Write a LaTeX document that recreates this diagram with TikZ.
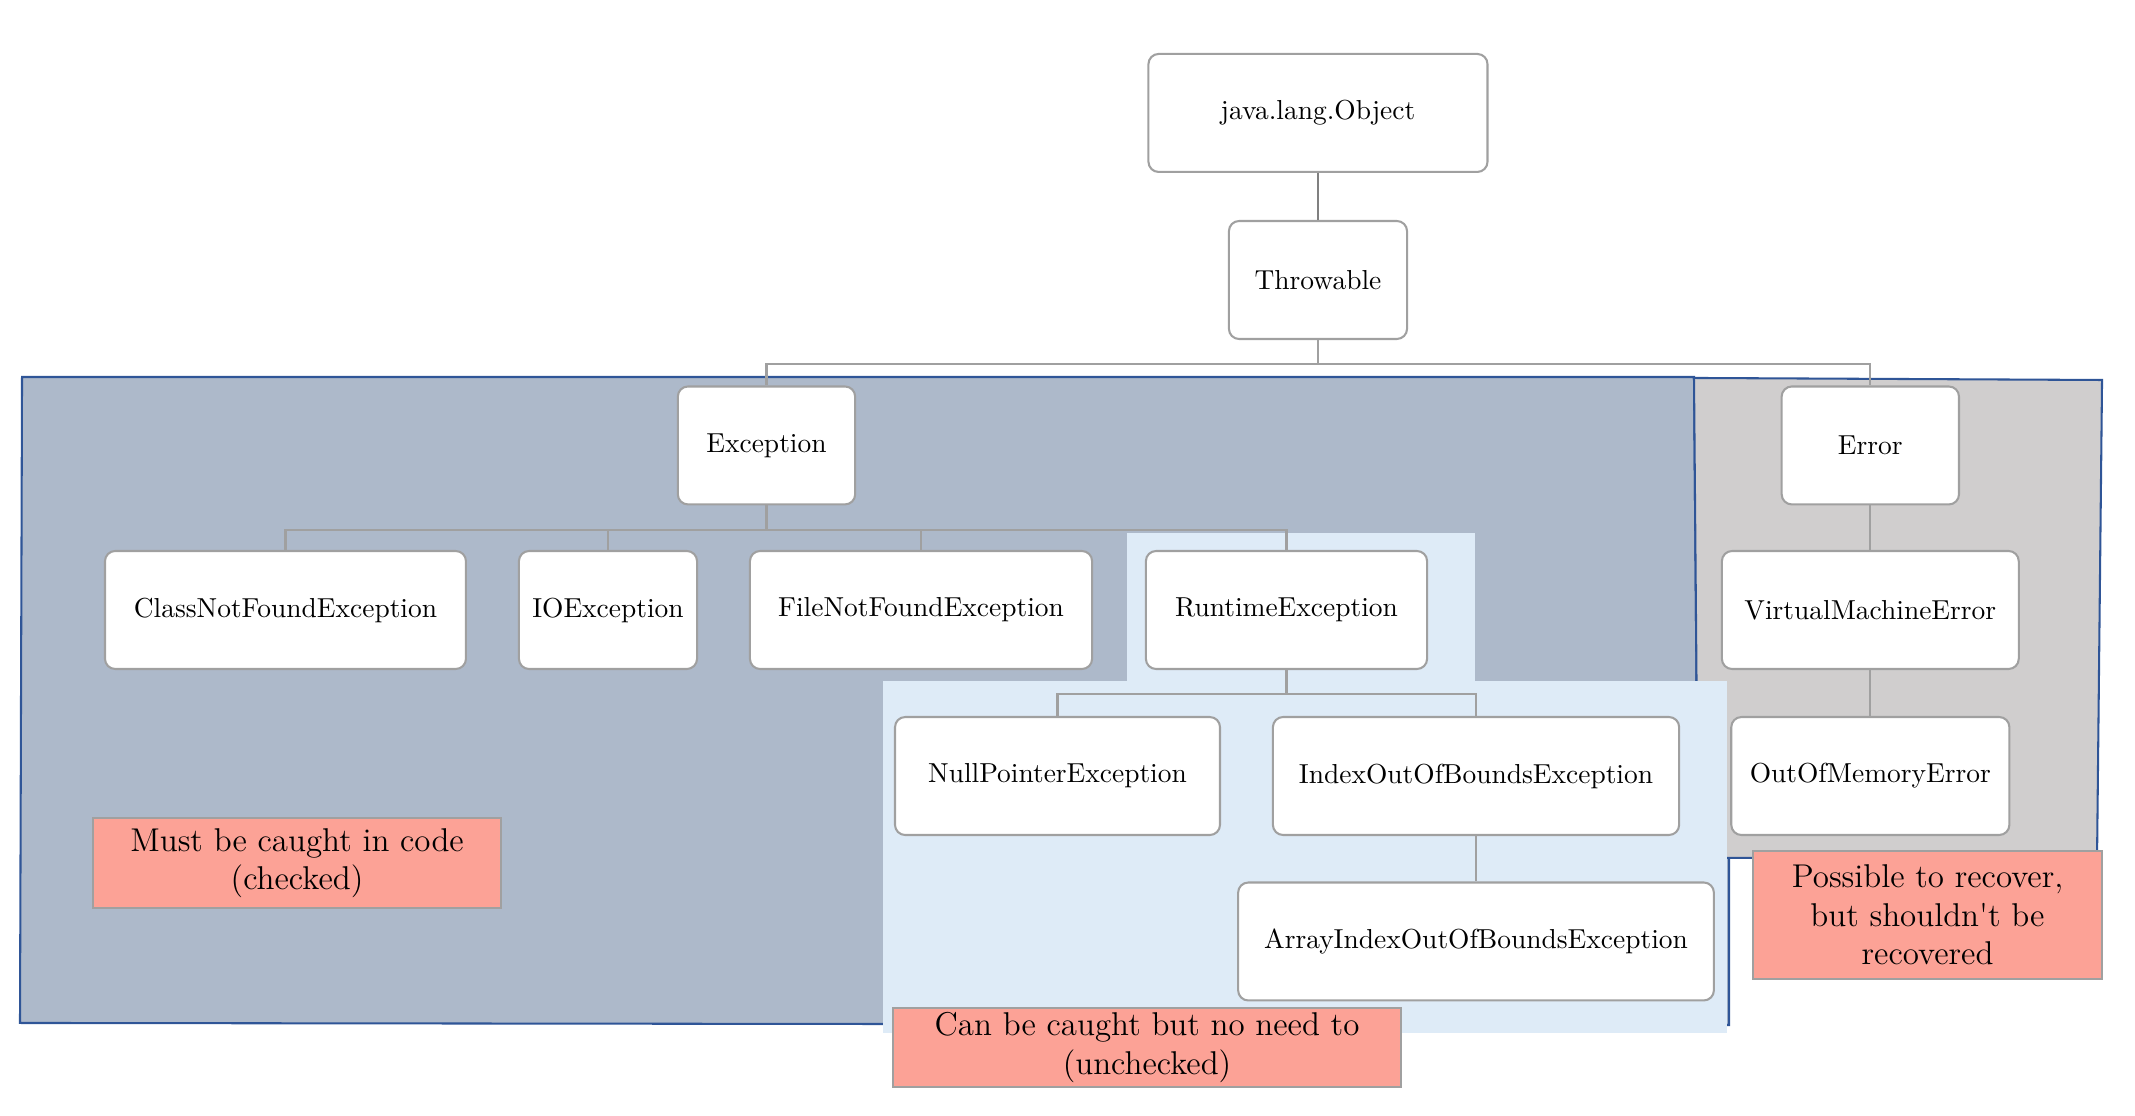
\documentclass[tikz,border=0pt]{standalone}
\definecolor{checkedfill}{RGB}{173,185,202}
\definecolor{errorfill}{RGB}{208,206,206}
\definecolor{uncheckedfill}{RGB}{222,235,247}
\definecolor{regionline}{RGB}{47,85,151}
\definecolor{notefill}{RGB}{252,162,150}
\definecolor{boxline}{RGB}{160,160,160}
\definecolor{rootline}{RGB}{128,128,128}
\tikzset{
  classbox/.style={draw=boxline, fill=white, line width=0.75pt, rounded corners=0.13cm,
    minimum height=1.51cm, inner sep=0pt},
  notebox/.style={draw=boxline, fill=notefill, line width=0.75pt, align=center,
    font=\large, inner sep=0pt},
  link/.style={draw=boxline, line width=0.75pt},
}
\begin{document}
\begin{tikzpicture}
\useasboundingbox (0,0) rectangle (27.328,14.272);

% regions
\filldraw[fill=checkedfill, draw=regionline, line width=0.75pt]
  (0.282,9.446) -- (21.683,9.446) -- (21.734,3.29) -- (22.131,3.29)
  -- (22.131,1.152) -- (0.256,1.178) -- cycle;
\filldraw[fill=errorfill, draw=regionline, line width=0.75pt]
  (21.683,9.434) -- (26.906,9.408) -- (26.842,3.29) -- (21.734,3.29) -- cycle;
\fill[color=uncheckedfill] (14.426,7.45) rectangle (18.88,5.54);
\fill[color=uncheckedfill] (11.302,5.555) rectangle (22.106,1.05);

% classes
\node[classbox, minimum width=4.34cm] (obj) at (16.87,12.826) {java.lang.Object};
\node[classbox, minimum width=2.28cm] (thr) at (16.87,10.688) {Throwable};

\node[classbox, minimum width=2.27cm] (exc) at (9.811,8.57) {Exception};
\node[classbox, minimum width=2.27cm] (err) at (23.94,8.57) {Error};

\node[classbox, minimum width=4.62cm] (cnf) at (3.654,6.464) {ClassNotFoundException};
\node[classbox, minimum width=2.28cm] (ioe) at (7.782,6.464) {IOException};
\node[classbox, minimum width=4.38cm] (fnf) at (11.789,6.464) {FileNotFoundException};
\node[classbox, minimum width=3.60cm] (rte) at (16.467,6.464) {RuntimeException};
\node[classbox, minimum width=3.80cm] (vme) at (23.94,6.464) {VirtualMachineError};

\node[classbox, minimum width=4.16cm] (npe) at (13.536,4.339) {NullPointerException};
\node[classbox, minimum width=5.20cm] (ioob) at (18.893,4.339) {IndexOutOfBoundsException};
\node[classbox, minimum width=3.56cm] (oom) at (23.94,4.339) {OutOfMemoryError};

\node[classbox, minimum width=6.09cm] (aioob) at (18.893,2.221) {ArrayIndexOutOfBoundsException};

% links
\draw[draw=rootline, line width=1pt] (obj.south) -- (thr.north);

\draw[link] (thr.south) -- ++(0,-0.31) -| (exc.north);
\draw[link] (thr.south) -- ++(0,-0.31) -| (err.north);

\draw[link] (exc.south) -- ++(0,-0.31) -| (cnf.north);
\draw[link] (exc.south) -- ++(0,-0.31) -| (ioe.north);
\draw[link] (exc.south) -- ++(0,-0.31) -| (fnf.north);
\draw[link] (exc.south) -- ++(0,-0.31) -| (rte.north);

\draw[link] (rte.south) -- ++(0,-0.31) -| (npe.north);
\draw[link] (rte.south) -- ++(0,-0.31) -| (ioob.north);

\draw[link] (ioob.south) -- (aioob.north);
\draw[link] (err.south) -- (vme.north);
\draw[link] (vme.south) -- (oom.north);

% notes
\node[notebox, minimum width=5.22cm, minimum height=1.15cm] (checked) at (3.802,3.226)
  {Must be caught in code\\(checked)};
\node[notebox, minimum width=6.50cm, minimum height=1.01cm] (unchecked) at (14.682,0.864)
  {Can be caught but no need to\\(unchecked)};
\node[notebox, minimum width=4.47cm, minimum height=1.64cm] (errnote) at (24.672,2.56)
  {Possible to recover,\\but shouldn\textquotesingle t be\\recovered};
\end{tikzpicture}
\end{document}
